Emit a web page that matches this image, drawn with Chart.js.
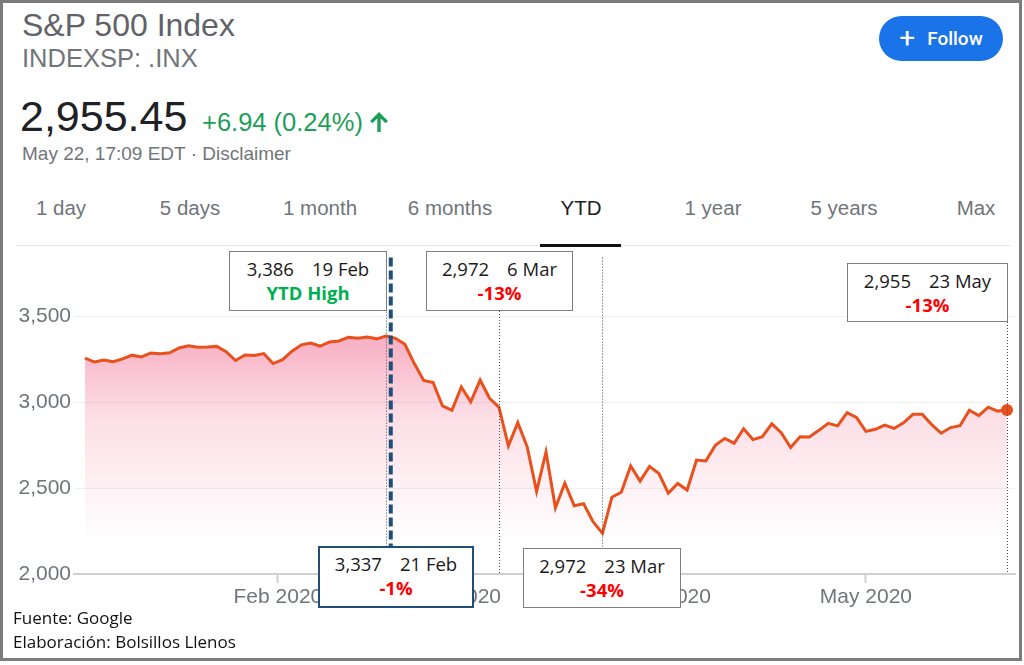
<!DOCTYPE html>
<html>
<head>
<meta charset="utf-8">
<title>S&amp;P 500 Index YTD</title>
<script src="https://cdn.jsdelivr.net/npm/chart.js@4.4.1/dist/chart.umd.min.js"></script>
<style>
    html, body { margin: 0; padding: 0; }
    body {
        width: 1024px; height: 665px; position: relative; overflow: hidden;
        background: #fff; font-family: "Liberation Sans", Arial, sans-serif;
    }
    .frame {
        position: absolute; left: 0; top: 0; width: 1016px; height: 655px;
        border: 3px solid #7c7c7c; background: #fff;
    }
    .abs { position: absolute; line-height: 1; white-space: nowrap; }
    .title { left: 22px; top: 9px; font-size: 32px; color: #5f6368; }
    .sub { left: 22px; top: 46px; font-size: 25.5px; color: #70757a; }
    .price { left: 20px; top: 95px; font-size: 43px; color: #202124; }
    .change { left: 202px; top: 110px; font-size: 25.5px; color: #1e9e5a; }
    .arrow { left: 370px; top: 112px; }
    .stamp { left: 22px; top: 144px; font-size: 19px; color: #70757a; }
    .follow {
        position: absolute; left: 879px; top: 16px; width: 124px; height: 45px;
        border-radius: 23px; background: #1a73e8; color: #fff;
        display: flex; align-items: center; justify-content: center;
        font-family: Roboto, "Liberation Sans", sans-serif; font-weight: 500; font-size: 19px;
    }
    .follow .plus { font-size: 28px; font-weight: 400; margin-right: 12px; margin-top: -3px; }
    .tab { top: 198px; font-size: 20.5px; color: #70757a; transform: translateX(-50%); }
    .tab.on { color: #202124; }
    .tabline { position: absolute; left: 16px; top: 245px; width: 994px; height: 1px; background: #e6e6e6; }
    .tabmark { position: absolute; left: 540px; top: 244px; width: 81px; height: 3px; background: #111; }
    #wrap { position: absolute; left: 0; top: 240px; width: 1024px; height: 380px; }
    .note {
        position: absolute; background: #fff; border: 1px solid #7f7f7f; box-sizing: border-box;
        font-family: "Open Sans", "Noto Sans", sans-serif; font-size: 18.5px; line-height: 24px;
        text-align: center; color: #1a1a1a; padding-top: 5px; white-space: nowrap;
    }
    .note .d { margin-left: 18px; }
    .note .g { color: #00b050; font-weight: 700; }
    .note .r { color: #ff0000; font-weight: 700; }
    .note.blue { border: 2.5px solid #1f4e79; padding-top: 4px; }
    .foot {
        left: 13px; font-family: "Open Sans", "Noto Sans", sans-serif; font-size: 17px; color: #111;
    }
</style>
</head>
<body>
<div class="frame"></div>

<div class="abs title">S&amp;P 500 Index</div>
<div class="abs sub">INDEXSP: .INX</div>
<div class="abs price">2,955.45</div>
<div class="abs change">+6.94 (0.24%)</div>
<svg class="abs arrow" width="18" height="20" viewBox="0 0 18 20">
    <path d="M9 0 L18 9 L15.6 11.3 L10.7 6.4 L10.7 20 L7.3 20 L7.3 6.4 L2.4 11.3 L0 9 Z" fill="#1e9e5a"/>
</svg>
<div class="abs stamp">May 22, 17:09 EDT · Disclaimer</div>
<div class="follow"><span class="plus">+</span>Follow</div>

<div class="abs tab" style="left:61px">1 day</div>
<div class="abs tab" style="left:190px">5 days</div>
<div class="abs tab" style="left:320px">1 month</div>
<div class="abs tab" style="left:450px">6 months</div>
<div class="abs tab on" style="left:581px">YTD</div>
<div class="abs tab" style="left:713px">1 year</div>
<div class="abs tab" style="left:844px">5 years</div>
<div class="abs tab" style="left:976px">Max</div>
<div class="tabline"></div>
<div class="tabmark"></div>

<div id="wrap"><canvas id="chart"></canvas></div>

<div class="note" style="left:229px; top:251px; width:158px; height:60px;">
    <div><span>3,386</span><span class="d">19 Feb</span></div>
    <div class="g">YTD High</div>
</div>
<div class="note" style="left:426px; top:251px; width:147px; height:60px;">
    <div><span>2,972</span><span class="d">6 Mar</span></div>
    <div class="r">-13%</div>
</div>
<div class="note" style="left:847px; top:263px; width:161px; height:59px;">
    <div><span>2,955</span><span class="d">23 May</span></div>
    <div class="r">-13%</div>
</div>
<div class="note blue" style="left:318px; top:546px; width:156px; height:62px;">
    <div><span>3,337</span><span class="d">21 Feb</span></div>
    <div class="r">-1%</div>
</div>
<div class="note" style="left:523px; top:548px; width:158px; height:60px;">
    <div><span>2,972</span><span class="d">23 Mar</span></div>
    <div class="r">-34%</div>
</div>

<div class="abs foot" style="top:609px">Fuente: Google</div>
<div class="abs foot" style="top:633px">Elaboración: Bolsillos Llenos</div>

<script>
// trading days of 2020 shown on the chart, per month
const janDays = [2, 3, 6, 7, 8, 9, 10, 13, 14, 15, 16, 17, 21, 22, 23, 24, 27, 28, 29, 30, 31];
const febDays = [3, 4, 5, 6, 7, 10, 11, 12, 13, 14, 18, 19, 20, 21, 24, 25, 26, 27, 28];
const marDays = [2, 3, 4, 5, 6, 9, 10, 11, 12, 13, 16, 17, 18, 19, 20, 23, 24, 25, 26, 27, 30, 31];
const aprDays = [1, 2, 3, 6, 7, 8, 9, 13, 14, 15, 16, 17, 20, 21, 22, 23, 24, 27, 28, 29, 30];
const mayDays = [1, 4, 5, 6, 7, 8, 11, 12, 13, 14, 15, 18, 19, 20, 21, 22];

const monthNames = ['Jan', 'Feb', 'Mar', 'Apr', 'May'];
const monthTickLabels = ['Feb 2020', 'Mar 2020', 'Apr 2020', 'May 2020'];
const yTicks = [2000, 2500, 3000, 3500];

// daily close
const closes = [
    3258, 3235, 3246, 3237, 3253, 3275, 3265, 3288, 3283, 3289, 3317,
    3330, 3321, 3322, 3326, 3295, 3244, 3276, 3273, 3284, 3226,
    3249, 3298, 3335, 3346, 3328, 3352, 3358, 3379, 3374, 3380,
    3370, 3386, 3373, 3338, 3226, 3128, 3116, 2979, 2954,
    3090, 3003, 3130, 3024, 2972, 2747, 2882, 2741, 2481, 2711, 2386,
    2529, 2398, 2409, 2305, 2237, 2447, 2476, 2630, 2541, 2627, 2585,
    2471, 2527, 2489, 2664, 2659, 2750, 2790, 2762, 2846, 2783, 2800,
    2875, 2823, 2737, 2799, 2798, 2837, 2878, 2863, 2940, 2912,
    2831, 2843, 2868, 2848, 2881, 2930, 2930, 2870, 2820, 2853, 2864,
    2954, 2923, 2972, 2949, 2955
];

const monthDays = [janDays, febDays, marDays, aprDays, mayDays];
const tradingDates = [];
const monthTickPos = [];
monthDays.forEach(function (days, m) {
    if (m > 0) {
        // month boundary: on the first day if it traded, else between sessions
        monthTickPos.push(days[0] === 1 ? tradingDates.length : tradingDates.length - 0.5);
    }
    days.forEach(function (d) { tradingDates.push(d + ' ' + monthNames[m]); });
});

const LINE = '#e8501c';
const lastIdx = closes.length - 1;

const markerPlugin = {
    id: 'markers',
    afterDatasetsDraw(chart) {
        const ctx = chart.ctx;
        const x = chart.scales.x;
        const top = chart.chartArea.top;
        const bottom = chart.chartArea.bottom;
        const thin = [
            { at: tradingDates.indexOf('19 Feb'), y0: top + 2, y1: 306 },
            { at: tradingDates.indexOf('6 Mar'), y0: 71, y1: bottom },
            { at: tradingDates.indexOf('23 Mar'), y0: top + 2, y1: 308 },
            { at: tradingDates.indexOf('22 May'), y0: 82, y1: bottom }
        ];
        ctx.save();
        ctx.strokeStyle = '#4a4a4a';
        ctx.lineWidth = 1;
        ctx.setLineDash([1, 2]);
        thin.forEach(function (m) {
            const px = Math.round(x.getPixelForValue(m.at)) + 0.5;
            ctx.beginPath();
            ctx.moveTo(px, m.y0);
            ctx.lineTo(px, m.y1);
            ctx.stroke();
        });
        // thick dashed line right after the YTD high
        const hi = tradingDates.indexOf('19 Feb');
        const px = x.getPixelForValue(hi + 0.5);
        ctx.strokeStyle = '#1f4e79';
        ctx.lineWidth = 4;
        ctx.setLineDash([9, 4]);
        ctx.beginPath();
        ctx.moveTo(px, top + 2);
        ctx.lineTo(px, 306);
        ctx.stroke();
        ctx.restore();
    }
};

new Chart(document.getElementById('chart'), {
    type: 'line',
    data: {
        datasets: [{
            data: closes.map(function (v, i) { return { x: i, y: v }; }),
            borderColor: LINE,
            borderWidth: 3,
            tension: 0,
            fill: 'start',
            backgroundColor: function (c) {
                const area = c.chart.chartArea;
                if (!area) return 'rgba(238,60,110,0.3)';
                const ys = c.chart.scales.y;
                const g = c.chart.ctx.createLinearGradient(0, ys.getPixelForValue(3400), 0, ys.getPixelForValue(2200));
                g.addColorStop(0, 'rgba(238,60,110,0.42)');
                g.addColorStop(0.4, 'rgba(238,60,110,0.17)');
                g.addColorStop(1, 'rgba(238,60,110,0)');
                return g;
            },
            pointRadius: function (c) { return c.dataIndex === lastIdx ? 6 : 0; },
            pointBackgroundColor: LINE,
            pointBorderWidth: 0
        }]
    },
    options: {
        responsive: true,
        maintainAspectRatio: false,
        animation: false,
        layout: { padding: { left: 0, right: 9, top: 10, bottom: 0 } },
        plugins: {
            legend: { display: false },
            tooltip: { enabled: false }
        },
        scales: {
            x: {
                type: 'linear',
                min: -1.17,
                max: 98.85,
                afterBuildTicks: function (s) {
                    s.ticks = monthTickPos.map(function (v) { return { value: v }; });
                },
                afterFit: function (s) { s.height = 46; },
                ticks: {
                    autoSkip: false,
                    maxRotation: 0,
                    padding: 2,
                    color: '#70757a',
                    font: { family: '"Liberation Sans", Arial, sans-serif', size: 21 },
                    callback: function (v) {
                        return monthTickLabels[monthTickPos.indexOf(v)];
                    }
                },
                grid: {
                    drawOnChartArea: false,
                    drawTicks: true,
                    tickLength: 9,
                    tickWidth: 2,
                    tickColor: '#d0d0d0'
                },
                border: { display: true, color: '#d0d0d0', width: 2 }
            },
            y: {
                min: 2000,
                max: 3855,
                afterBuildTicks: function (s) {
                    s.ticks = yTicks.map(function (v) { return { value: v }; });
                },
                afterFit: function (s) { s.width = 74; },
                ticks: {
                    padding: 3,
                    color: '#70757a',
                    font: { family: '"Liberation Sans", Arial, sans-serif', size: 21 },
                    callback: function (v) { return v.toLocaleString('en-US'); }
                },
                grid: { color: '#f0f0f0', lineWidth: 1, drawTicks: false },
                border: { display: false }
            }
        }
    },
    plugins: [markerPlugin]
});
</script>
</body>
</html>
